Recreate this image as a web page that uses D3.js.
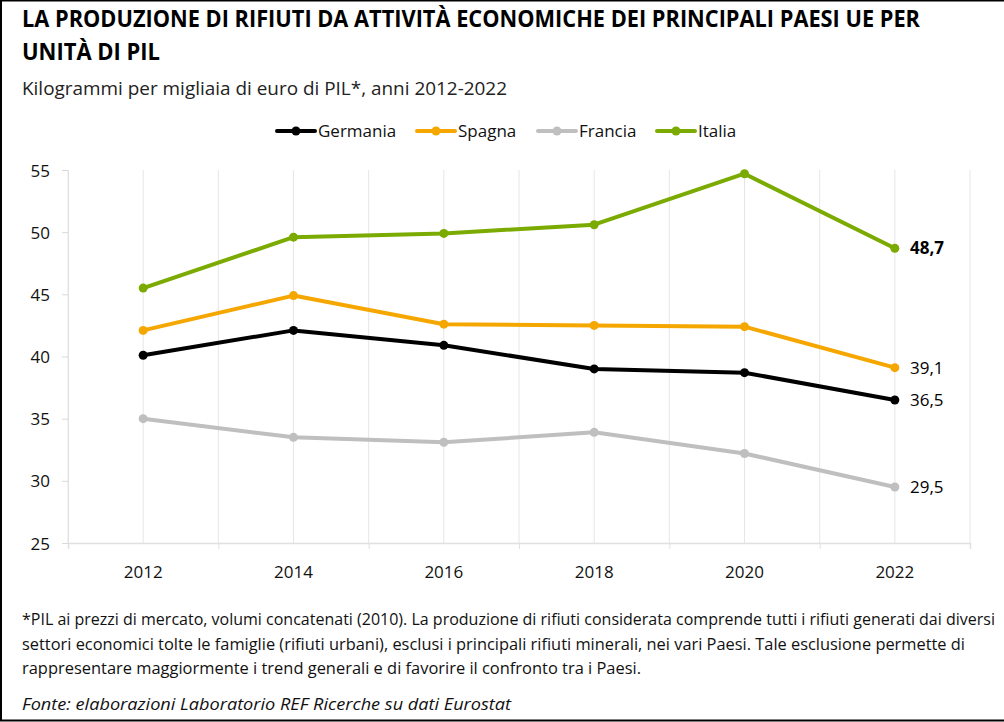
<!DOCTYPE html>
<html><head><meta charset="utf-8">
<script src="https://cdn.jsdelivr.net/npm/d3@7"></script>
<style>body{margin:0;background:#fff}svg{display:block}text{font-family:"Open Sans","Noto Sans",sans-serif}</style>
</head><body>
<script>
const years = [2012, 2014, 2016, 2018, 2020, 2022];
const germania = [40.1, 42.1, 40.9, 39.0, 38.7, 36.5];
const spagna = [42.1, 44.9, 42.6, 42.5, 42.4, 39.1];
const francia = [35.0, 33.5, 33.1, 33.9, 32.2, 29.5];
const italia = [45.5, 49.6, 49.9, 50.6, 54.7, 48.7];
const seriesNames = ["Germania", "Spagna", "Francia", "Italia"];
const seriesColors = ["#000000", "#F5A700", "#BFBFBF", "#7BAA00"];
const yTicks = [25, 30, 35, 40, 45, 50, 55];
const endLabels = ["36,5", "39,1", "29,5", "48,7"];

const W = 1004, H = 722;
const svg = d3.select("body").append("svg").attr("width", W).attr("height", H);

// border (top, left, bottom)
svg.append("path").attr("d", `M1006,0.5 H1 V720.5 H1006`).attr("fill","none").attr("stroke","#000").attr("stroke-width",2);

// titles
svg.append("text").attr("x", 22).attr("y", 27).attr("font-size", 23).attr("font-weight", 700).attr("fill","#000")
  .attr("textLength", 898).attr("lengthAdjust","spacingAndGlyphs")
  .text("LA PRODUZIONE DI RIFIUTI DA ATTIVITÀ ECONOMICHE DEI PRINCIPALI PAESI UE PER");
svg.append("text").attr("x", 22).attr("y", 60).attr("font-size", 23).attr("font-weight", 700).attr("fill","#000")
  .attr("textLength", 138).attr("lengthAdjust","spacingAndGlyphs")
  .text("UNITÀ DI PIL");
svg.append("text").attr("x", 22).attr("y", 95).attr("font-size", 18.5).attr("fill","#222")
  .attr("textLength", 485).attr("lengthAdjust","spacingAndGlyphs")
  .text("Kilogrammi per migliaia di euro di PIL*, anni 2012-2022");

// scales
const x = d3.scaleLinear().domain([2011, 2023]).range([68, 970]);
const y = d3.scaleLinear().domain([25, 55]).range([543, 170]);

// vertical gridlines every year
const gridYears = d3.range(2011, 2024);
svg.append("g").selectAll("line").data(gridYears).join("line")
  .attr("x1", d => x(d)).attr("x2", d => x(d)).attr("y1", y(55)).attr("y2", y(25))
  .attr("stroke", "#E6E6E6").attr("stroke-width", 1);

// x axis
const xAxis = d3.axisBottom(x).tickValues(d3.range(2011, 2024, 2)).tickSize(6).tickFormat("");
const gx = svg.append("g").attr("transform", `translate(0,${y(25)})`).call(xAxis);
gx.select(".domain").attr("stroke", "#E0E0E0").attr("stroke-width", 1.5);
gx.selectAll(".tick line").attr("stroke", "#E0E0E0");
svg.append("g").selectAll("text").data(years).join("text")
  .attr("x", d => x(d)).attr("y", 578).attr("text-anchor","middle").attr("font-size", 17).attr("fill","#111")
  .text(d => d);

// y axis
const yAxis = d3.axisLeft(y).tickValues(yTicks).tickSize(6).tickPadding(12);
const gy = svg.append("g").attr("transform", `translate(68,0)`).call(yAxis);
gy.select(".domain").attr("stroke", "#E0E0E0");
gy.selectAll(".tick line").attr("stroke", "#D9D9D9");
gy.selectAll(".tick text").attr("font-size", 17).attr("fill","#111").attr("font-family","'Open Sans',sans-serif").attr("dy","0.36em");

// series
const allSeries = [germania, spagna, francia, italia];
const line = d3.line().x((d,i) => x(years[i])).y(d => y(d));
const order = [2, 0, 1, 3];
order.forEach(si => {
  const vals = allSeries[si];
  svg.append("path").datum(vals).attr("d", line).attr("fill","none")
    .attr("stroke", seriesColors[si]).attr("stroke-width", 4).attr("stroke-linejoin","round");
  svg.append("g").selectAll("circle").data(vals).join("circle")
    .attr("cx", (d,i) => x(years[i])).attr("cy", d => y(d)).attr("r", 4.5).attr("fill", seriesColors[si]);
});

// end labels
allSeries.forEach((vals, si) => {
  const v = vals[vals.length-1];
  svg.append("text").attr("x", 910).attr("y", y(v)).attr("dy", "0.36em")
    .attr("font-size", 17).attr("font-weight", si === 3 ? 700 : 400)
    .attr("font-family", si === 3 ? "Liberation Sans, Arial, sans-serif" : null)
    .attr("fill","#000").text(endLabels[si]);
});

// legend
const legX = [277, 417, 538, 657];
seriesNames.forEach((n, i) => {
  const g = svg.append("g").attr("transform", `translate(${legX[i]},131)`);
  g.append("line").attr("x1",0).attr("x2",38).attr("stroke", seriesColors[i]).attr("stroke-width",4).attr("stroke-linecap","round");
  g.append("circle").attr("cx",19).attr("r",4.5).attr("fill", seriesColors[i]);
  g.append("text").attr("x", 41).attr("dy","0.36em").attr("font-size",17).attr("fill","#111").text(n);
});

// footnote
const notes = [
  "*PIL ai prezzi di mercato, volumi concatenati (2010). La produzione di rifiuti considerata comprende tutti i rifiuti generati dai diversi",
  "settori economici tolte le famiglie (rifiuti urbani), esclusi i principali rifiuti minerali, nei vari Paesi. Tale esclusione permette di",
  "rappresentare maggiormente i trend generali e di favorire il confronto tra i Paesi."
];
const noteLens = [973, 943, 619];
notes.forEach((t, i) => {
  svg.append("text").attr("x", 22).attr("y", 625 + i*24.5).attr("font-size", 15.5).attr("fill","#111")
    .attr("textLength", noteLens[i]).attr("lengthAdjust","spacingAndGlyphs").text(t);
});
svg.append("text").attr("x", 22).attr("y", 710).attr("font-size", 17).attr("font-style","italic").attr("fill","#111")
  .attr("textLength", 489).attr("lengthAdjust","spacingAndGlyphs")
  .text("Fonte: elaborazioni Laboratorio REF Ricerche su dati Eurostat");
</script>
</body></html>
